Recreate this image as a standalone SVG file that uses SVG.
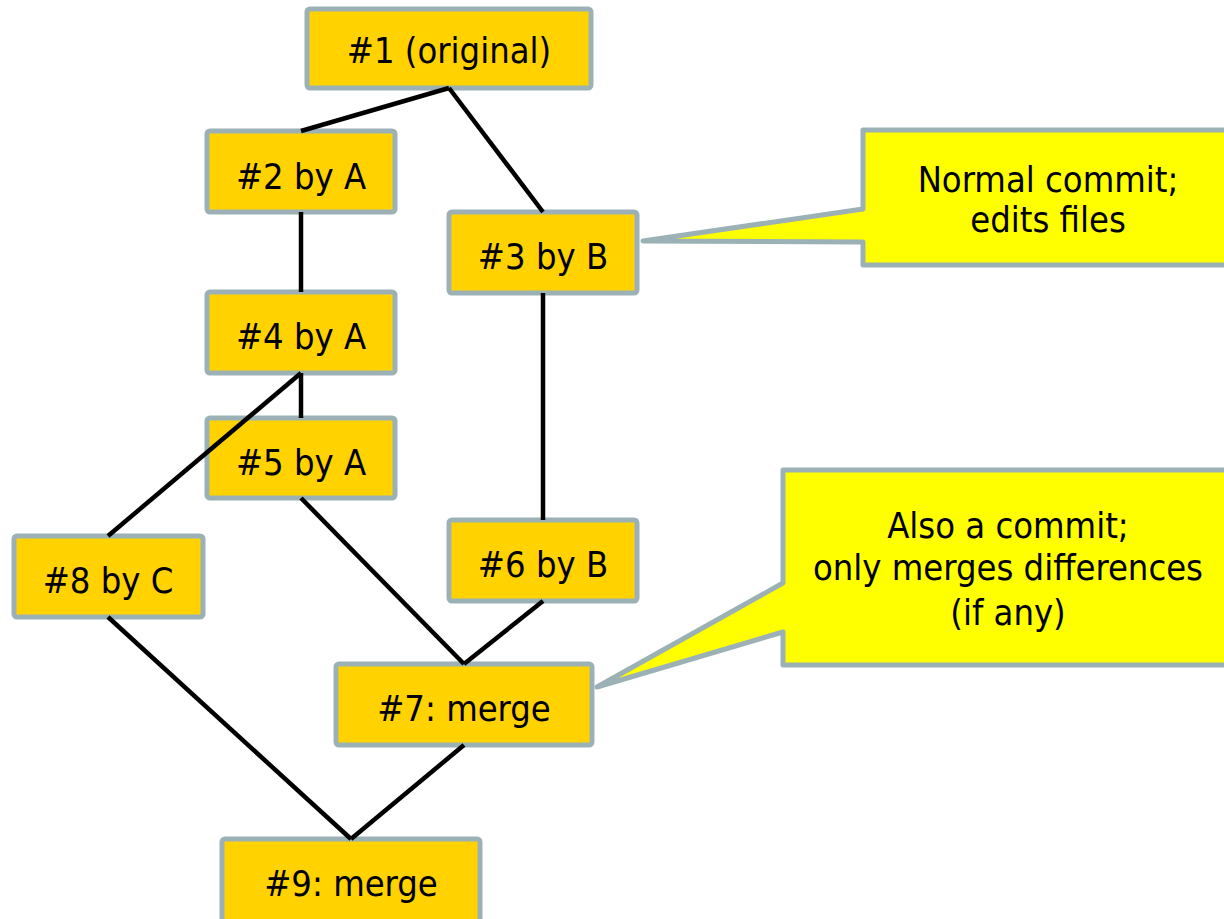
<svg xmlns="http://www.w3.org/2000/svg" width="1224" height="919" viewBox="0 0 1224 919">
  <style>
    .node rect { fill: #FFD200; stroke: #9BB1B5; stroke-width: 5; }
    .callout path { fill: #FFFF00; stroke: #9BB1B5; stroke-width: 5; stroke-linejoin: round; }
    text { font-family: "DejaVu Sans Condensed", "DejaVu Sans", Tahoma, sans-serif; font-size: 36px; fill: #000; text-anchor: middle; }
    .edges line { stroke: #000; stroke-width: 4.5; }
  </style>
  <rect width="1224" height="919" fill="#fff"/>

  <g id="n1" class="node"><rect x="307" y="9" width="284" height="79" rx="3"/><text x="449" y="63">#1 (original)</text></g>
  <g id="n2" class="node"><rect x="207" y="131" width="188" height="81" rx="3"/><text x="301" y="189">#2 by A</text></g>
  <g id="n3" class="node"><rect x="449" y="212" width="188" height="81" rx="3"/><text x="543" y="269">#3 by B</text></g>
  <g id="n4" class="node"><rect x="207" y="292" width="188" height="81" rx="3"/><text x="301" y="349">#4 by A</text></g>
  <g id="n5" class="node"><rect x="207" y="418" width="188" height="80" rx="3"/><text x="301" y="475">#5 by A</text></g>
  <g id="n6" class="node"><rect x="449" y="520" width="188" height="81" rx="3"/><text x="543" y="577">#6 by B</text></g>
  <g id="n8" class="node"><rect x="14" y="536" width="189" height="81" rx="3"/><text x="108" y="593">#8 by C</text></g>
  <g id="n7" class="node"><rect x="336" y="664" width="256" height="81" rx="3"/><text x="464" y="721">#7: merge</text></g>
  <g id="n9" class="node"><rect x="222" y="839" width="258" height="84" rx="3"/><text x="351" y="896">#9: merge</text></g>

  <g id="callout-normal" class="callout">
    <path d="M863,130 H1232 V265 H863 V242 L643,241 L863,209 Z"/>
    <text x="1048" y="192">Normal commit;</text>
    <text x="1048" y="232">edits files</text>
  </g>
  <g id="callout-merge" class="callout">
    <path d="M783,470 H1232 V665 H783 V632 L597,687 L783,583 Z"/>
    <text x="1008" y="538">Also a commit;</text>
    <text x="1008" y="580">only merges differences</text>
    <text x="1008" y="625">(if any)</text>
  </g>

  <g id="edges" class="edges">
    <line x1="449" y1="88" x2="301" y2="131"/>
    <line x1="449" y1="88" x2="543" y2="212"/>
    <line x1="301" y1="212" x2="301" y2="292"/>
    <line x1="543" y1="293" x2="543" y2="520"/>
    <line x1="301" y1="373" x2="301" y2="418"/>
    <line x1="301" y1="373" x2="108" y2="536"/>
    <line x1="301" y1="498" x2="464" y2="664"/>
    <line x1="543" y1="601" x2="464" y2="664"/>
    <line x1="108" y1="617" x2="351" y2="839"/>
    <line x1="464" y1="745" x2="351" y2="839"/>
  </g>
</svg>
